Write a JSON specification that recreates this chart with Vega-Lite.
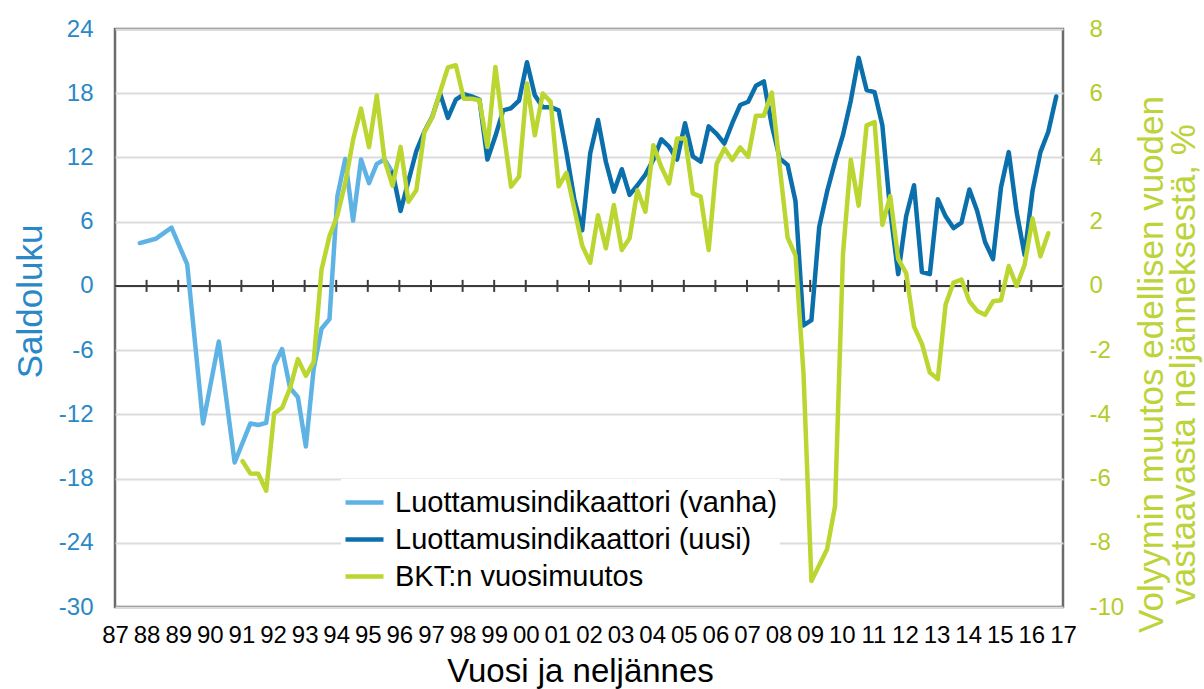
{
  "$schema": "https://vega.github.io/schema/vega-lite/v6.json",
  "width": 948,
  "height": 578,
  "autosize": "none",
  "padding": {"left": 115, "top": 29, "right": 141, "bottom": 82},
  "background": "white",
  "config": {
    "font": "Liberation Sans",
    "view": {"stroke": "#6b6b6b", "strokeWidth": 2.5},
    "axisX": {
      "domain": false, "ticks": false, "grid": false,
      "labelFontSize": 24, "labelColor": "#000000", "labelPadding": 16,
      "labelFlush": false, "labelOverlap": false,
      "titleFontSize": 33, "titleFontWeight": "normal", "titleColor": "#000000", "titlePadding": 8,
      "titleX": 465
    },
    "axisLeft": {
      "domain": false, "ticks": false,
      "labelPadding": 22, "labelFontSize": 24, "labelColor": "#2A88C6",
      "grid": true, "gridColor": "#DCDCDC", "gridWidth": 2,
      "titleFontSize": 35, "titleFontWeight": "normal", "titleColor": "#2A88C6", "titlePadding": 10,
      "titleY": 272
    },
    "axisRight": {
      "domain": false, "ticks": false, "grid": false,
      "labelPadding": 26, "labelFontSize": 24, "labelColor": "#B3CC2A",
      "titleFontSize": 35, "titleFontWeight": "normal", "titleColor": "#BCD33A",
      "titleAngle": 270, "titlePadding": 14, "titleLineHeight": 32, "titleY": 335
    },
    "legend": {
      "orient": "none", "legendX": 226, "legendY": 450,
      "fillColor": "white", "padding": 2,
      "labelFontSize": 29, "labelColor": "#000000", "labelLimit": 0, "labelOffset": 9,
      "symbolType": "stroke", "symbolStrokeWidth": 4.5, "symbolSize": 1444,
      "rowPadding": -0.5
    }
  },
  "datasets": {
    "vuodet": [
      {"aika": "1988-01-01"}, {"aika": "1989-01-01"}, {"aika": "1990-01-01"}, {"aika": "1991-01-01"},
      {"aika": "1992-01-01"}, {"aika": "1993-01-01"}, {"aika": "1994-01-01"}, {"aika": "1995-01-01"},
      {"aika": "1996-01-01"}, {"aika": "1997-01-01"}, {"aika": "1998-01-01"}, {"aika": "1999-01-01"},
      {"aika": "2000-01-01"}, {"aika": "2001-01-01"}, {"aika": "2002-01-01"}, {"aika": "2003-01-01"},
      {"aika": "2004-01-01"}, {"aika": "2005-01-01"}, {"aika": "2006-01-01"}, {"aika": "2007-01-01"},
      {"aika": "2008-01-01"}, {"aika": "2009-01-01"}, {"aika": "2010-01-01"}, {"aika": "2011-01-01"},
      {"aika": "2012-01-01"}, {"aika": "2013-01-01"}, {"aika": "2014-01-01"}, {"aika": "2015-01-01"},
      {"aika": "2016-01-01"}
    ],
    "vanha": [
      {"aika": "1987-10-15", "arvo": 4.0},
      {"aika": "1988-04-15", "arvo": 4.4},
      {"aika": "1988-10-15", "arvo": 5.45},
      {"aika": "1989-04-15", "arvo": 2.0},
      {"aika": "1989-10-15", "arvo": -12.85},
      {"aika": "1990-04-15", "arvo": -5.2},
      {"aika": "1990-10-15", "arvo": -16.5},
      {"aika": "1991-04-15", "arvo": -12.85},
      {"aika": "1991-07-15", "arvo": -13.0},
      {"aika": "1991-10-15", "arvo": -12.8},
      {"aika": "1992-01-15", "arvo": -7.45},
      {"aika": "1992-04-15", "arvo": -5.9},
      {"aika": "1992-07-15", "arvo": -9.5},
      {"aika": "1992-10-15", "arvo": -10.4},
      {"aika": "1993-01-15", "arvo": -15.0},
      {"aika": "1993-04-15", "arvo": -7.8},
      {"aika": "1993-07-15", "arvo": -4.0},
      {"aika": "1993-10-15", "arvo": -3.1},
      {"aika": "1994-01-15", "arvo": 8.4},
      {"aika": "1994-04-15", "arvo": 11.85},
      {"aika": "1994-07-15", "arvo": 6.1},
      {"aika": "1994-10-15", "arvo": 11.8},
      {"aika": "1995-01-15", "arvo": 9.6},
      {"aika": "1995-04-15", "arvo": 11.4},
      {"aika": "1995-07-15", "arvo": 11.8},
      {"aika": "1995-10-15", "arvo": 10.6}
    ],
    "uusi": [
      {"aika": "1995-10-15", "arvo": 10.6},
      {"aika": "1996-01-15", "arvo": 7.0},
      {"aika": "1996-04-15", "arvo": 9.8},
      {"aika": "1996-07-15", "arvo": 12.6},
      {"aika": "1996-10-15", "arvo": 14.4},
      {"aika": "1997-01-15", "arvo": 15.8},
      {"aika": "1997-04-15", "arvo": 18.0},
      {"aika": "1997-07-15", "arvo": 15.7},
      {"aika": "1997-10-15", "arvo": 17.4},
      {"aika": "1998-01-15", "arvo": 17.9},
      {"aika": "1998-04-15", "arvo": 17.7},
      {"aika": "1998-07-15", "arvo": 17.4},
      {"aika": "1998-10-15", "arvo": 11.8},
      {"aika": "1999-01-15", "arvo": 14.0},
      {"aika": "1999-04-15", "arvo": 16.4},
      {"aika": "1999-07-15", "arvo": 16.6},
      {"aika": "1999-10-15", "arvo": 17.3},
      {"aika": "2000-01-15", "arvo": 20.9},
      {"aika": "2000-04-15", "arvo": 17.8},
      {"aika": "2000-07-15", "arvo": 16.7},
      {"aika": "2000-10-15", "arvo": 16.7},
      {"aika": "2001-01-15", "arvo": 16.4},
      {"aika": "2001-04-15", "arvo": 12.5},
      {"aika": "2001-07-15", "arvo": 8.1},
      {"aika": "2001-10-15", "arvo": 5.2},
      {"aika": "2002-01-15", "arvo": 12.4},
      {"aika": "2002-04-15", "arvo": 15.5},
      {"aika": "2002-07-15", "arvo": 11.6},
      {"aika": "2002-10-15", "arvo": 8.8},
      {"aika": "2003-01-15", "arvo": 10.9},
      {"aika": "2003-04-15", "arvo": 8.5},
      {"aika": "2003-07-15", "arvo": 9.4},
      {"aika": "2003-10-15", "arvo": 10.4},
      {"aika": "2004-01-15", "arvo": 11.8},
      {"aika": "2004-04-15", "arvo": 13.7},
      {"aika": "2004-07-15", "arvo": 13.0},
      {"aika": "2004-10-15", "arvo": 11.8},
      {"aika": "2005-01-15", "arvo": 15.2},
      {"aika": "2005-04-15", "arvo": 12.1},
      {"aika": "2005-07-15", "arvo": 11.6},
      {"aika": "2005-10-15", "arvo": 14.9},
      {"aika": "2006-01-15", "arvo": 14.2},
      {"aika": "2006-04-15", "arvo": 13.3},
      {"aika": "2006-07-15", "arvo": 15.2},
      {"aika": "2006-10-15", "arvo": 16.9},
      {"aika": "2007-01-15", "arvo": 17.2},
      {"aika": "2007-04-15", "arvo": 18.7},
      {"aika": "2007-07-15", "arvo": 19.1},
      {"aika": "2007-10-15", "arvo": 15.0},
      {"aika": "2008-01-15", "arvo": 11.9},
      {"aika": "2008-04-15", "arvo": 11.3},
      {"aika": "2008-07-15", "arvo": 7.9},
      {"aika": "2008-10-15", "arvo": -3.7},
      {"aika": "2009-01-15", "arvo": -3.2},
      {"aika": "2009-04-15", "arvo": 5.5},
      {"aika": "2009-07-15", "arvo": 8.8},
      {"aika": "2009-10-15", "arvo": 11.6},
      {"aika": "2010-01-15", "arvo": 14.1},
      {"aika": "2010-04-15", "arvo": 17.3},
      {"aika": "2010-07-15", "arvo": 21.3},
      {"aika": "2010-10-15", "arvo": 18.3},
      {"aika": "2011-01-15", "arvo": 18.1},
      {"aika": "2011-04-15", "arvo": 15.0},
      {"aika": "2011-07-15", "arvo": 7.0},
      {"aika": "2011-10-15", "arvo": 1.1},
      {"aika": "2012-01-15", "arvo": 6.5},
      {"aika": "2012-04-15", "arvo": 9.4},
      {"aika": "2012-07-15", "arvo": 1.3},
      {"aika": "2012-10-15", "arvo": 1.1},
      {"aika": "2013-01-15", "arvo": 8.1},
      {"aika": "2013-04-15", "arvo": 6.5},
      {"aika": "2013-07-15", "arvo": 5.4},
      {"aika": "2013-10-15", "arvo": 5.9},
      {"aika": "2014-01-15", "arvo": 9.0},
      {"aika": "2014-04-15", "arvo": 7.0},
      {"aika": "2014-07-15", "arvo": 4.1},
      {"aika": "2014-10-15", "arvo": 2.5},
      {"aika": "2015-01-15", "arvo": 9.2},
      {"aika": "2015-04-15", "arvo": 12.5},
      {"aika": "2015-07-15", "arvo": 6.9},
      {"aika": "2015-10-15", "arvo": 2.9},
      {"aika": "2016-01-15", "arvo": 8.9},
      {"aika": "2016-04-15", "arvo": 12.5},
      {"aika": "2016-07-15", "arvo": 14.4},
      {"aika": "2016-10-15", "arvo": 17.7}
    ],
    "bkt": [
      {"aika": "1991-01-15", "arvo": -5.46},
      {"aika": "1991-04-15", "arvo": -5.84},
      {"aika": "1991-07-15", "arvo": -5.85},
      {"aika": "1991-10-15", "arvo": -6.38},
      {"aika": "1992-01-15", "arvo": -3.97},
      {"aika": "1992-04-15", "arvo": -3.8},
      {"aika": "1992-07-15", "arvo": -3.2},
      {"aika": "1992-10-15", "arvo": -2.28},
      {"aika": "1993-01-15", "arvo": -2.8},
      {"aika": "1993-04-15", "arvo": -2.37},
      {"aika": "1993-07-15", "arvo": 0.5},
      {"aika": "1993-10-15", "arvo": 1.55},
      {"aika": "1994-01-15", "arvo": 2.2},
      {"aika": "1994-04-15", "arvo": 3.2},
      {"aika": "1994-07-15", "arvo": 4.55},
      {"aika": "1994-10-15", "arvo": 5.52},
      {"aika": "1995-01-15", "arvo": 4.32},
      {"aika": "1995-04-15", "arvo": 5.93},
      {"aika": "1995-07-15", "arvo": 3.9},
      {"aika": "1995-10-15", "arvo": 3.12},
      {"aika": "1996-01-15", "arvo": 4.33},
      {"aika": "1996-04-15", "arvo": 2.62},
      {"aika": "1996-07-15", "arvo": 2.98},
      {"aika": "1996-10-15", "arvo": 4.78},
      {"aika": "1997-01-15", "arvo": 5.25},
      {"aika": "1997-04-15", "arvo": 6.03},
      {"aika": "1997-07-15", "arvo": 6.8},
      {"aika": "1997-10-15", "arvo": 6.87},
      {"aika": "1998-01-15", "arvo": 5.83},
      {"aika": "1998-04-15", "arvo": 5.83},
      {"aika": "1998-07-15", "arvo": 5.78},
      {"aika": "1998-10-15", "arvo": 4.33},
      {"aika": "1999-01-15", "arvo": 6.82},
      {"aika": "1999-04-15", "arvo": 4.9},
      {"aika": "1999-07-15", "arvo": 3.09},
      {"aika": "1999-10-15", "arvo": 3.4},
      {"aika": "2000-01-15", "arvo": 6.3},
      {"aika": "2000-04-15", "arvo": 4.69},
      {"aika": "2000-07-15", "arvo": 5.99},
      {"aika": "2000-10-15", "arvo": 5.73},
      {"aika": "2001-01-15", "arvo": 3.1},
      {"aika": "2001-04-15", "arvo": 3.52},
      {"aika": "2001-07-15", "arvo": 2.4},
      {"aika": "2001-10-15", "arvo": 1.25},
      {"aika": "2002-01-15", "arvo": 0.72},
      {"aika": "2002-04-15", "arvo": 2.2},
      {"aika": "2002-07-15", "arvo": 1.17},
      {"aika": "2002-10-15", "arvo": 2.52},
      {"aika": "2003-01-15", "arvo": 1.12},
      {"aika": "2003-04-15", "arvo": 1.48},
      {"aika": "2003-07-15", "arvo": 2.98},
      {"aika": "2003-10-15", "arvo": 2.31},
      {"aika": "2004-01-15", "arvo": 4.38},
      {"aika": "2004-04-15", "arvo": 3.71},
      {"aika": "2004-07-15", "arvo": 3.19},
      {"aika": "2004-10-15", "arvo": 4.59},
      {"aika": "2005-01-15", "arvo": 4.59},
      {"aika": "2005-04-15", "arvo": 2.88},
      {"aika": "2005-07-15", "arvo": 2.78},
      {"aika": "2005-10-15", "arvo": 1.12},
      {"aika": "2006-01-15", "arvo": 3.8},
      {"aika": "2006-04-15", "arvo": 4.28},
      {"aika": "2006-07-15", "arvo": 3.92},
      {"aika": "2006-10-15", "arvo": 4.31},
      {"aika": "2007-01-15", "arvo": 4.02},
      {"aika": "2007-04-15", "arvo": 5.3},
      {"aika": "2007-07-15", "arvo": 5.3},
      {"aika": "2007-10-15", "arvo": 6.02},
      {"aika": "2008-01-15", "arvo": 3.7},
      {"aika": "2008-04-15", "arvo": 1.5},
      {"aika": "2008-07-15", "arvo": 0.95},
      {"aika": "2008-10-15", "arvo": -2.7},
      {"aika": "2009-01-15", "arvo": -9.19},
      {"aika": "2009-04-15", "arvo": -8.7},
      {"aika": "2009-07-15", "arvo": -8.2},
      {"aika": "2009-10-15", "arvo": -6.86},
      {"aika": "2010-01-15", "arvo": 1.0},
      {"aika": "2010-04-15", "arvo": 3.93},
      {"aika": "2010-07-15", "arvo": 2.5},
      {"aika": "2010-10-15", "arvo": 5.0},
      {"aika": "2011-01-15", "arvo": 5.1},
      {"aika": "2011-04-15", "arvo": 1.9},
      {"aika": "2011-07-15", "arvo": 2.8},
      {"aika": "2011-10-15", "arvo": 0.84},
      {"aika": "2012-01-15", "arvo": 0.4},
      {"aika": "2012-04-15", "arvo": -1.27},
      {"aika": "2012-07-15", "arvo": -1.8},
      {"aika": "2012-10-15", "arvo": -2.7},
      {"aika": "2013-01-15", "arvo": -2.9},
      {"aika": "2013-04-15", "arvo": -0.58},
      {"aika": "2013-07-15", "arvo": 0.1},
      {"aika": "2013-10-15", "arvo": 0.2},
      {"aika": "2014-01-15", "arvo": -0.48},
      {"aika": "2014-04-15", "arvo": -0.78},
      {"aika": "2014-07-15", "arvo": -0.9},
      {"aika": "2014-10-15", "arvo": -0.48},
      {"aika": "2015-01-15", "arvo": -0.45},
      {"aika": "2015-04-15", "arvo": 0.62},
      {"aika": "2015-07-15", "arvo": 0.0},
      {"aika": "2015-10-15", "arvo": 0.65},
      {"aika": "2016-01-15", "arvo": 2.1},
      {"aika": "2016-04-15", "arvo": 0.92},
      {"aika": "2016-07-15", "arvo": 1.64}
    ]
  },
  "layer": [
    {
      "layer": [
        {
          "data": {"values": [{}]},
          "mark": {"type": "rule", "color": "#3c3c3c", "strokeWidth": 2},
          "encoding": {
            "y": {"datum": 0, "type": "quantitative", "scale": {"domain": [-30, 24], "nice": false, "zero": false}}
          }
        },
        {
          "data": {"name": "vuodet"},
          "mark": {"type": "tick", "orient": "vertical", "size": 12, "thickness": 2, "color": "#3c3c3c", "opacity": 1},
          "encoding": {
            "x": {"field": "aika", "type": "temporal", "title": "Vuosi ja neljännes",
                  "scale": {"type": "utc", "domain": [{"year": 1987, "month": 1, "date": 1, "utc": true}, {"year": 2017, "month": 1, "date": 1, "utc": true}]},
                  "axis": {"tickCount": {"interval": "year", "step": 1}, "labelExpr": "utcFormat(datum.value, '%y')"}},
            "y": {"datum": 0, "type": "quantitative"}
          }
        },
        {
          "data": {"name": "vanha"},
          "mark": {"type": "line", "strokeWidth": 4.5, "strokeJoin": "round", "strokeCap": "round"},
          "encoding": {
            "x": {"field": "aika", "type": "temporal", "title": "Vuosi ja neljännes",
                  "axis": {"tickCount": {"interval": "year", "step": 1}, "labelExpr": "utcFormat(datum.value, '%y')"}},
            "y": {"field": "arvo", "type": "quantitative", "title": "Saldoluku",
                  "axis": {"values": [-30, -24, -18, -12, -6, 0, 6, 12, 18, 24], "labelExpr": "'' + datum.value"}},
            "color": {"datum": "Luottamusindikaattori (vanha)", "type": "nominal", "title": null,
                      "scale": {"domain": ["Luottamusindikaattori (vanha)", "Luottamusindikaattori (uusi)", "BKT:n vuosimuutos"],
                                "range": ["#5FB3E4", "#0B6FAC", "#BCD631"]}}
          }
        },
        {
          "data": {"name": "uusi"},
          "mark": {"type": "line", "strokeWidth": 4.5, "strokeJoin": "round", "strokeCap": "round"},
          "encoding": {
            "x": {"field": "aika", "type": "temporal", "title": "Vuosi ja neljännes",
                  "axis": {"tickCount": {"interval": "year", "step": 1}, "labelExpr": "utcFormat(datum.value, '%y')"}},
            "y": {"field": "arvo", "type": "quantitative", "title": "Saldoluku"},
            "color": {"datum": "Luottamusindikaattori (uusi)", "type": "nominal", "title": null}
          }
        }
      ]
    },
    {
      "data": {"name": "bkt"},
      "mark": {"type": "line", "strokeWidth": 4.5, "strokeJoin": "round", "strokeCap": "round"},
      "encoding": {
        "x": {"field": "aika", "type": "temporal", "title": "Vuosi ja neljännes",
              "axis": {"tickCount": {"interval": "year", "step": 1}, "labelExpr": "utcFormat(datum.value, '%y')"}},
        "y": {"field": "arvo", "type": "quantitative",
              "title": ["Volyymin muutos edellisen vuoden", "vastaavasta neljänneksestä, %"],
              "scale": {"domain": [-10, 8], "nice": false, "zero": false},
              "axis": {"orient": "right", "values": [-10, -8, -6, -4, -2, 0, 2, 4, 6, 8], "labelExpr": "'' + datum.value"}},
        "color": {"datum": "BKT:n vuosimuutos", "type": "nominal", "title": null}
      }
    }
  ],
  "resolve": {"scale": {"y": "independent"}}
}
